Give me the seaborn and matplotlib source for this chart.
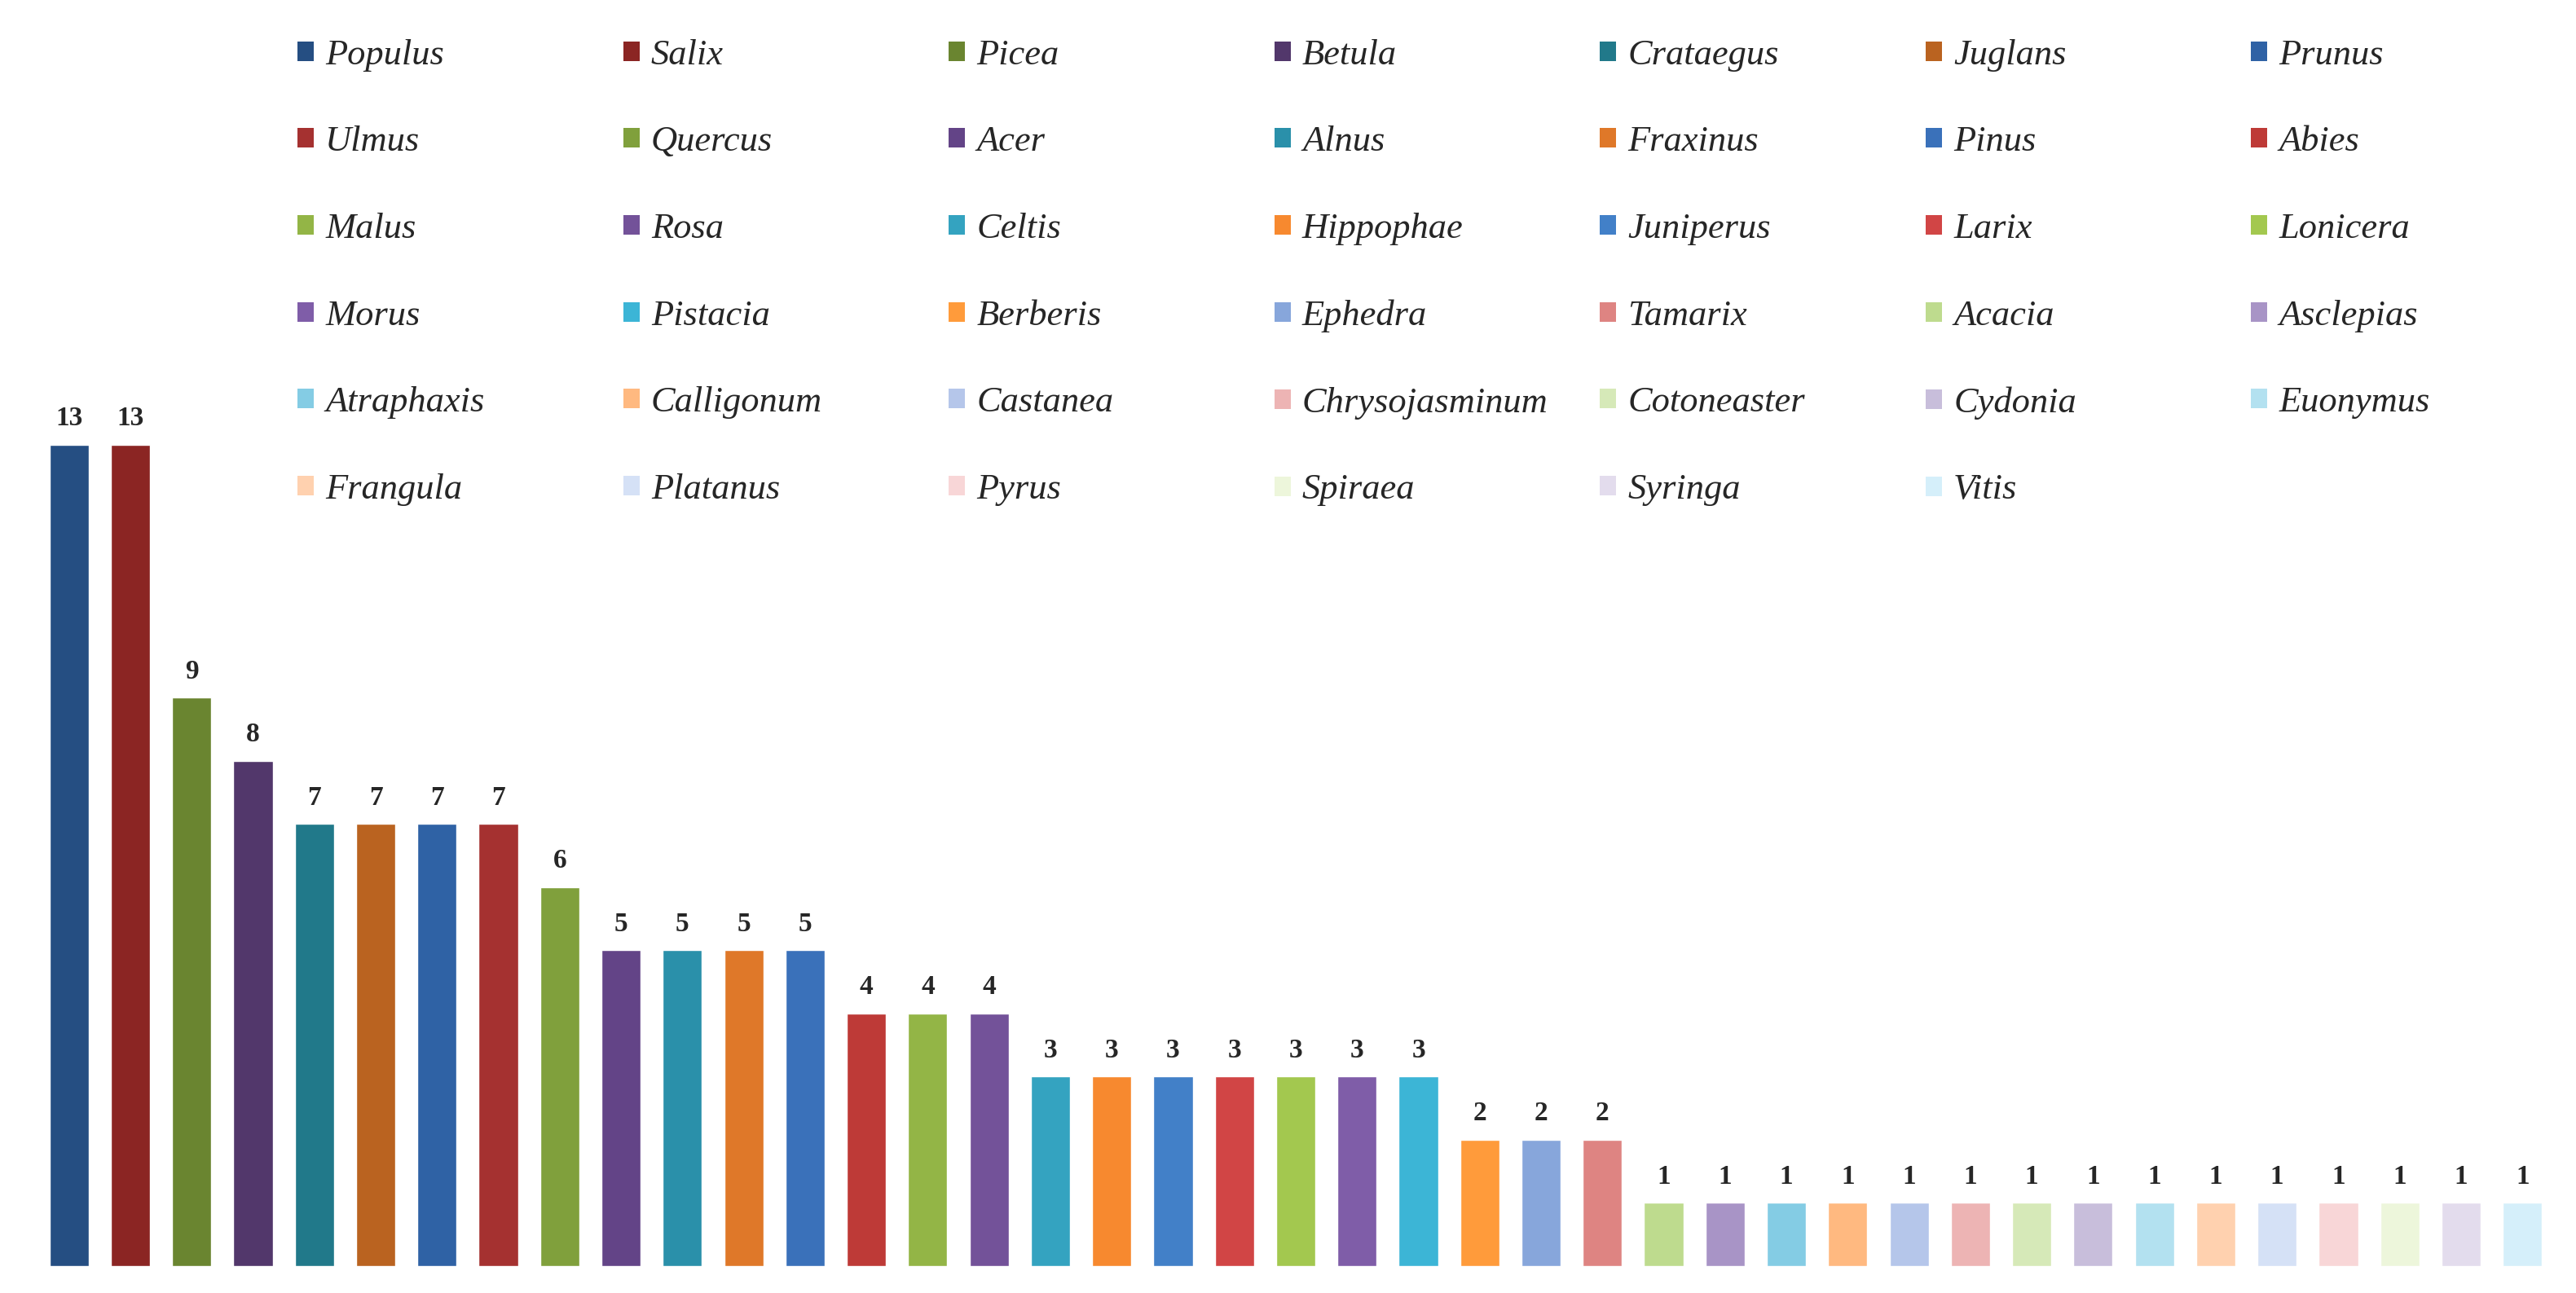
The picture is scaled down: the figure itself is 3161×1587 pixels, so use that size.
import matplotlib
matplotlib.use("Agg")
import matplotlib.pyplot as plt
import seaborn as sns
import pandas as pd
from matplotlib.patches import Patch

# genus counts, sorted as in the figure
genera = [
    "Populus", "Salix", "Picea", "Betula", "Crataegus", "Juglans", "Prunus",
    "Ulmus", "Quercus", "Acer", "Alnus", "Fraxinus", "Pinus", "Abies",
    "Malus", "Rosa", "Celtis", "Hippophae", "Juniperus", "Larix", "Lonicera",
    "Morus", "Pistacia", "Berberis", "Ephedra", "Tamarix", "Acacia", "Asclepias",
    "Atraphaxis", "Calligonum", "Castanea", "Chrysojasminum", "Cotoneaster", "Cydonia", "Euonymus",
    "Frangula", "Platanus", "Pyrus", "Spiraea", "Syringa", "Vitis",
]
counts = [13, 13, 9, 8, 7, 7, 7, 7, 6, 5, 5, 5, 5, 4, 4, 4, 3, 3, 3, 3, 3,
          3, 3, 2, 2, 2, 1, 1, 1, 1, 1, 1, 1, 1, 1, 1, 1, 1, 1, 1, 1]
colors = [
    "#254E82", "#8B2523", "#6A8530", "#52376B", "#21798A", "#BA6320", "#2F62A5",
    "#A53130", "#80A03C", "#634487", "#2A90AA", "#DF7829", "#3A71BA", "#BE3A37",
    "#93B546", "#735299", "#34A3C0", "#F7892F", "#4280C8", "#D14545", "#A3C84F",
    "#7F5DA8", "#3CB5D6", "#FF9B3B", "#87A6DB", "#DE8482", "#BEDB8E", "#A894C6",
    "#84CCE4", "#FFB980", "#B5C6EA", "#EDB4B4", "#D6E9B8", "#C8BEDB", "#B3E1F0",
    "#FFD1AF", "#D5E1F6", "#F8D6D7", "#EDF6DB", "#E3DCED", "#D5EFFA",
]

sns.set_theme(style="white")
plt.rcParams["font.family"] = ["Liberation Serif", "DejaVu Serif"]

df = pd.DataFrame({"genus": genera, "count": counts})

fig = plt.figure(figsize=(31.61, 15.87), dpi=100)
ax = fig.add_axes([0.0149, 0.0208, 0.9762, 0.977])
sns.barplot(data=df, x="genus", y="count", hue="genus", palette=colors,
            legend=False, width=0.64, saturation=1, ax=ax)
ax.set_ylim(0, 20)
ax.set_xlim(-0.5, len(genera) - 0.5)
ax.set_axis_off()

for c in ax.containers:
    ax.bar_label(c, fmt="%d", padding=12, fontsize=24, fontweight="bold")

# legend laid out as 7 evenly spaced columns, filled row by row
handles = [Patch(facecolor=col, edgecolor="none") for col in colors]
for j in range(7):
    idx = list(range(j, len(genera), 7))
    fig.legend([handles[i] for i in idx], [genera[i] for i in idx],
               loc="upper left", bbox_to_anchor=(0.1155 + j * 0.1264, 0.970),
               frameon=False, borderpad=0, borderaxespad=0,
               handlelength=0.45, handleheight=0.45, handletextpad=0.32,
               labelspacing=1.50, prop={"style": "italic", "size": 32})

fig.savefig("out.png", dpi=100)
plt.close(fig)
